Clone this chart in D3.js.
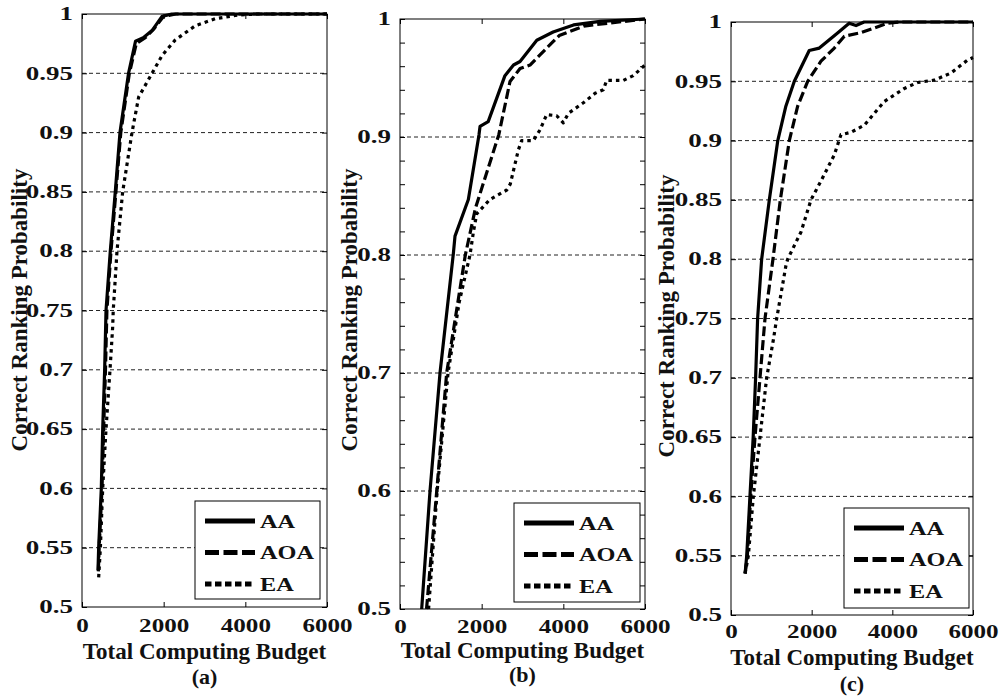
<!DOCTYPE html>
<html>
<head>
<meta charset="utf-8">
<script src="https://cdn.jsdelivr.net/npm/d3@7"></script>
<style>
  body { margin: 0; background: #fff; }
  svg { display: block; }
  text { font-family: "Liberation Serif", "Times New Roman", serif; font-weight: bold; fill: #111; }
</style>
</head>
<body>
<script>
// Tick values
const xTicks = [0, 2000, 4000, 6000];
const yTicksFine = [0.5, 0.55, 0.6, 0.65, 0.7, 0.75, 0.8, 0.85, 0.9, 0.95, 1];
const yTicksCoarse = [0.5, 0.6, 0.7, 0.8, 0.9, 1];
const yMinorB = [0.5, 0.52, 0.54, 0.56, 0.58, 0.6, 0.62, 0.64, 0.66, 0.68, 0.7, 0.72, 0.74, 0.76, 0.78, 0.8,
	0.82, 0.84, 0.86, 0.88, 0.9, 0.92, 0.94, 0.96, 0.98, 1];
const seriesNames = ["AA", "AOA", "EA"];

// Panel (a): [budget, probability]
const aAA = [[392, 0.531], [408, 0.55], [473, 0.6], [507, 0.65], [555, 0.7], [588, 0.75], [693, 0.8], [815, 0.85],
	[930, 0.9], [1140, 0.95], [1310, 0.977], [1500, 0.98], [1715, 0.986], [1960, 0.998], [2200, 1], [6000, 1]];
const aAOA = [[400, 0.53], [420, 0.55], [490, 0.6], [530, 0.65], [575, 0.7], [610, 0.75], [710, 0.8], [830, 0.85],
	[950, 0.9], [1160, 0.95], [1330, 0.975], [1550, 0.98], [1750, 0.987], [2000, 0.998], [2300, 1], [6000, 1]];
const aEA = [[408, 0.525], [450, 0.55], [507, 0.6], [588, 0.65], [686, 0.7], [751, 0.736], [765, 0.75], [857, 0.8],
	[996, 0.85], [1224, 0.9], [1388, 0.93], [1715, 0.95], [1960, 0.965], [2280, 0.978], [2770, 0.99], [3260, 0.996],
	[3800, 0.999], [4300, 1], [6000, 1]];

// Panel (b)
const bAA = [[531, 0.5], [572, 0.52], [735, 0.6], [980, 0.7], [1306, 0.801], [1347, 0.816], [1674, 0.847],
	[1935, 0.902], [1960, 0.909], [2160, 0.913], [2570, 0.952], [2780, 0.961], [2940, 0.964], [3350, 0.982],
	[3750, 0.989], [4250, 0.995], [4900, 0.998], [6000, 1]];
const bAOA = [[650, 0.5], [700, 0.52], [900, 0.6], [1143, 0.7], [1600, 0.8], [1850, 0.84], [2420, 0.902],
	[2694, 0.947], [2940, 0.958], [3184, 0.961], [3755, 0.981], [3900, 0.986], [4500, 0.994], [5500, 0.998], [6000, 1]];
const bEA = [[700, 0.5], [910, 0.6], [1176, 0.7], [1450, 0.76], [1714, 0.8], [1800, 0.82], [1880, 0.835],
	[2200, 0.847], [2612, 0.855], [2700, 0.86], [2898, 0.889], [2980, 0.897], [3265, 0.897], [3429, 0.906],
	[3592, 0.919], [3837, 0.918], [4000, 0.912], [4122, 0.92], [4490, 0.929], [4776, 0.937], [4980, 0.94],
	[5061, 0.948], [5470, 0.948], [5714, 0.952], [6000, 0.961]];

// Panel (c)
const cAA = [[350, 0.535], [390, 0.55], [470, 0.6], [550, 0.65], [610, 0.7], [660, 0.75], [760, 0.8], [950, 0.85],
	[1160, 0.9], [1360, 0.929], [1570, 0.95], [1940, 0.976], [2190, 0.978], [2650, 0.991], [2930, 0.999],
	[3100, 0.997], [3300, 1], [6000, 1]];
const cAOA = [[350, 0.535], [405, 0.55], [488, 0.6], [595, 0.65], [719, 0.7], [843, 0.75], [1040, 0.8],
	[1223, 0.85], [1446, 0.9], [1653, 0.929], [1901, 0.95], [2231, 0.967], [2562, 0.978], [2810, 0.988],
	[3223, 0.991], [3554, 0.995], [3884, 0.999], [4200, 1], [6000, 1]];
const cEA = [[350, 0.535], [430, 0.55], [554, 0.6], [719, 0.65], [884, 0.7], [1050, 0.732], [1133, 0.75],
	[1364, 0.795], [1405, 0.8], [1736, 0.823], [1983, 0.85], [2231, 0.866], [2562, 0.888], [2727, 0.905],
	[2975, 0.907], [3306, 0.913], [3802, 0.933], [4298, 0.944], [4629, 0.949], [5041, 0.951], [5455, 0.957],
	[5868, 0.968], [6000, 0.97]];

// Layout of each panel
const panels = [
	{ tag: "(a)", l: 82, r: 327, t: 14, b: 607, yTicks: yTicksFine, yMinor: yTicksFine, series: [aAA, aAOA, aEA],
		leg: [195, 501, 125, 98], yLab: [27, 310], xLabDy: 25, titleDy: 52, tagDy: 77 },
	{ tag: "(b)", l: 400, r: 645, t: 19, b: 609, yTicks: yTicksCoarse, yMinor: yMinorB, series: [bAA, bAOA, bEA],
		leg: [514, 503, 126, 99], yLab: [357, 310], xLabDy: 24, titleDy: 49, tagDy: 73 },
	{ tag: "(c)", l: 731, r: 973, t: 22, b: 615, yTicks: yTicksFine, yMinor: yTicksFine, series: [cAA, cAOA, cEA],
		leg: [844, 508, 125, 100], yLab: [674, 316], xLabDy: 23, titleDy: 50, tagDy: 76 },
];

const plotDash = { AA: null, AOA: "10,4", EA: "3.5,4" };
const legDash = { AA: null, AOA: "14,4.5", EA: "6.5,3.5" };

const w = 1001;
const h = 699;
const svg = d3.select("body").append("svg").attr("width", w).attr("height", h);

// widen text horizontally to match the squashed look of the original
function stretch(sel, k) {
	sel.each(function () {
		const len = this.getComputedTextLength();
		if (len > 0) d3.select(this).attr("textLength", len * k).attr("lengthAdjust", "spacingAndGlyphs");
	});
}

panels.forEach((p) => {
	const x = d3.scaleLinear().domain([0, 6000]).range([p.l, p.r]);
	const y = d3.scaleLinear().domain([0.5, 1]).range([p.b, p.t]);
	const g = svg.append("g");

	// grid
	g.selectAll(".grid")
		.data(p.yTicks.filter((v) => v > 0.5 && v < 1))
		.enter()
		.append("line")
		.attr("x1", p.l)
		.attr("x2", p.r)
		.attr("y1", (d) => y(d))
		.attr("y2", (d) => y(d))
		.attr("stroke", "#222")
		.attr("stroke-width", 1)
		.attr("stroke-dasharray", "4,3");

	// curves (EA first, AA on top)
	const line = d3.line().x((d) => x(d[0])).y((d) => y(d[1]));
	[2, 1, 0].forEach((i) => {
		const name = seriesNames[i];
		g.append("path")
			.datum(p.series[i])
			.attr("d", line)
			.attr("fill", "none")
			.attr("stroke", "#000")
			.attr("stroke-width", 3.2)
			.attr("stroke-linejoin", "round")
			.attr("stroke-dasharray", plotDash[name]);
	});

	// axes
	const fmt = (v) => String(+v.toFixed(2));
	const left = g.append("g")
		.attr("transform", `translate(${p.l},0)`)
		.call(d3.axisLeft(y).tickValues(p.yMinor).tickSizeInner(-5).tickSizeOuter(0).tickPadding(9)
			.tickFormat((v) => (p.yTicks.some((t) => Math.abs(t - v) < 1e-9) ? fmt(v) : "")));
	g.append("g")
		.attr("transform", `translate(${p.r},0)`)
		.call(d3.axisRight(y).tickValues(p.yMinor).tickSizeInner(-5).tickSizeOuter(0).tickFormat(""));
	const bottom = g.append("g")
		.attr("transform", `translate(0,${p.b})`)
		.call(d3.axisBottom(x).tickValues(xTicks).tickSizeInner(-5).tickSizeOuter(0).tickFormat(d3.format("d")));
	g.append("g")
		.attr("transform", `translate(0,${p.t})`)
		.call(d3.axisTop(x).tickValues(xTicks).tickSizeInner(-5).tickSizeOuter(0).tickFormat(""));
	g.selectAll(".domain").remove();
	g.selectAll(".tick line").attr("stroke", "#000");

	left.selectAll("text").style("font-size", "18px").attr("fill", "#111").call(stretch, 1.5);
	bottom.selectAll("text")
		.style("font-size", "19px")
		.attr("fill", "#111")
		.attr("y", p.xLabDy)
		.attr("dy", 0)
		.call(stretch, 1.32);

	// frame
	g.append("rect")
		.attr("x", p.l)
		.attr("y", p.t)
		.attr("width", p.r - p.l)
		.attr("height", p.b - p.t)
		.attr("fill", "none")
		.attr("stroke", "#000")
		.attr("stroke-width", 1);

	// titles
	const cx = (p.l + p.r) / 2;
	g.append("text")
		.attr("x", cx)
		.attr("y", p.b + p.titleDy)
		.attr("text-anchor", "middle")
		.style("font-size", "23px")
		.text("Total Computing Budget");
	g.append("text")
		.attr("x", cx)
		.attr("y", p.b + p.tagDy)
		.attr("text-anchor", "middle")
		.style("font-size", "22px")
		.text(p.tag);
	g.append("text")
		.attr("transform", `translate(${p.yLab[0]},${p.yLab[1]}) rotate(-90)`)
		.attr("text-anchor", "middle")
		.style("font-size", "23px")
		.text("Correct Ranking Probability");

	// legend
	const [lx, ly, lw, lh] = p.leg;
	const legend = g.append("g").attr("transform", `translate(${lx},${ly})`);
	legend.append("rect")
		.attr("width", lw)
		.attr("height", lh)
		.attr("fill", "#fff")
		.attr("stroke", "#000")
		.attr("stroke-width", 1);
	seriesNames.forEach((name, i) => {
		const yy = 20 + i * 31.5;
		legend.append("line")
			.attr("x1", 10)
			.attr("x2", 60)
			.attr("y1", yy)
			.attr("y2", yy)
			.attr("stroke", "#000")
			.attr("stroke-width", 5)
			.attr("stroke-dasharray", legDash[name]);
		legend.append("text")
			.attr("x", 65)
			.attr("y", yy + 6.5)
			.style("font-size", "18px")
			.text(name)
			.call(stretch, 1.35);
	});
});
</script>
</body>
</html>
